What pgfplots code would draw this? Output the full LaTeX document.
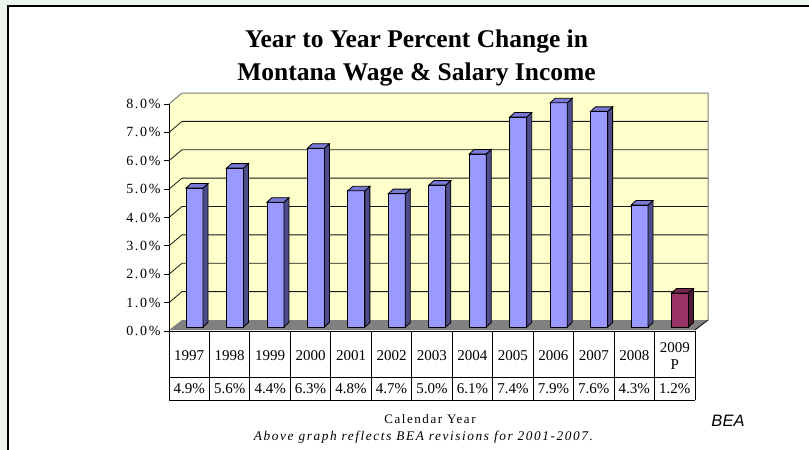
\documentclass[border=0pt]{standalone}
\usepackage{pgfplots}
\pgfplotsset{compat=1.18}
\usepackage{pgfplotstable}
\usepackage{fontspec}
\setmainfont{Liberation Serif}
\newfontfamily\spaced{Liberation Serif}[LetterSpace=12]
\newfontfamily\beafont{Liberation Sans}

\definecolor{bgout}{RGB}{237,246,236}
\definecolor{wall}{RGB}{255,255,204}
\definecolor{floorc}{RGB}{128,128,128}
\definecolor{frontA}{RGB}{153,153,255}
\definecolor{sideA}{RGB}{77,77,140}
\definecolor{topA}{RGB}{122,122,214}
\definecolor{frontB}{RGB}{153,51,102}
\definecolor{sideB}{RGB}{77,25,51}
\definecolor{topB}{RGB}{115,38,77}

\pgfplotstableread{
x v
0.5 4.9
1.5 5.6
2.5 4.4
3.5 6.3
4.5 4.8
5.5 4.7
6.5 5.0
7.5 6.1
8.5 7.4
9.5 7.9
10.5 7.6
11.5 4.3
12.5 1.2
}\growth

% side and top faces of a 3-D bar, drawn at the data point (front plane)
\newcommand\barfaces[2]{%
  \pgfmathsetmacro{\hfront}{4-\barv*28.375}%
  \pgfmathsetmacro{\hback}{8.5-\barv*28.375}%
  \pgfpathmoveto{\pgfpoint{13.8pt}{4pt}}%
  \pgfpathlineto{\pgfpoint{18.8pt}{8.5pt}}%
  \pgfpathlineto{\pgfpoint{18.8pt}{\hback pt}}%
  \pgfpathlineto{\pgfpoint{13.8pt}{\hfront pt}}%
  \pgfpathclose
  \pgfsetfillcolor{#1}%
  \pgfusepath{fill,stroke}%
  \pgfpathmoveto{\pgfpoint{-3.2pt}{4pt}}%
  \pgfpathlineto{\pgfpoint{13.8pt}{4pt}}%
  \pgfpathlineto{\pgfpoint{18.8pt}{8.5pt}}%
  \pgfpathlineto{\pgfpoint{1.8pt}{8.5pt}}%
  \pgfpathclose
  \pgfsetfillcolor{#2}%
  \pgfusepath{fill,stroke}%
}
\pgfdeclareplotmark{bar3dA}{\barfaces{sideA}{topA}}
\pgfdeclareplotmark{bar3dB}{\barfaces{sideB}{topB}}

\begin{document}
\begin{tikzpicture}
\begin{scope}[x=1pt,y=-1pt]
  \fill[bgout] (0,0) rectangle (809,450);
  \path[use as bounding box] (0,0) rectangle (809,450);
  \fill[white] (8,6) rectangle (809,450);
  \draw[black, line width=1.8pt] (8,450) -- (8,6) -- (809,6);
  % walls and floor
  \fill[wall] (169,104) -- (182,93) -- (182,320) -- (169,331) -- cycle;
  \fill[wall] (182,93) rectangle (708,320);
  \fill[floorc] (169,330) -- (695,330) -- (708,320) -- (182,320) -- cycle;
  \foreach \k in {1,...,7} {
    \draw[black!90, line width=0.8pt] (169,{331-\k*28.375}) -- (182,{320-\k*28.375}) -- (708,{320-\k*28.375});
  }
  \draw[gray, line width=1pt] (169,104) -- (182,93) -- (708,93) -- (708,320);
  \draw[black, line width=0.8pt] (695,330) -- (708,320);
  % title
  \node[anchor=base, font=\fontsize{25.5}{30}\selectfont\bfseries] at (416.5,47) {Year to Year Percent Change in};
  \node[anchor=base, font=\fontsize{25.5}{30}\selectfont\bfseries] at (416.5,80) {Montana Wage \& Salary Income};
\end{scope}

\begin{axis}[
  at={(169pt,-331pt)}, anchor=south west,
  x=40.46pt, y=28.375pt,
  xmin=0, xmax=13, ymin=0, ymax=8,
  clip=false,
  axis lines*=left,
  axis line style={-, black, line width=0.8pt},
  ytick={0,1,...,8},
  tick align=outside, major tick length=5pt,
  ytick style={black, line width=0.8pt},
  yticklabel={\pgfmathprintnumber[fixed,fixed zerofill,precision=1]{\tick}\%},
  yticklabel style={font=\spaced\fontsize{14}{14}\selectfont},
  xtick={0.5,1.5,...,12.5},
  xticklabels={1997,1998,1999,2000,2001,2002,2003,2004,2005,2006,2007,2008,{2009\\P}},
  xtick style={draw=none},
  xticklabel style={font=\fontsize{15}{17}\selectfont, align=center, anchor=center, yshift=-20pt},
  /pgf/number format/assume math mode=true,
]
\addplot[ybar, bar width=17pt, bar shift=5.3pt, yshift=4pt, fill=frontA, draw=black, line width=0.8pt,
  skip coords between index={12}{13}] table[x=x,y=v]{\growth};
\addplot[only marks, mark=bar3dA, mark options={draw=black, line width=0.8pt},
  visualization depends on={\thisrow{v}\as\barv},
  skip coords between index={12}{13}] table[x=x,y=v]{\growth};
\addplot[ybar, bar width=17pt, bar shift=5.3pt, yshift=4pt, fill=frontB, draw=black, line width=0.8pt,
  skip coords between index={0}{12}] table[x=x,y=v]{\growth};
\addplot[only marks, mark=bar3dB, mark options={draw=black, line width=0.8pt},
  visualization depends on={\thisrow{v}\as\barv},
  skip coords between index={0}{12}] table[x=x,y=v]{\growth};
% value row of the data table
\addplot[draw=none, mark=none, point meta=explicit,
  nodes near coords={\pgfmathprintnumber[fixed,fixed zerofill,precision=1]{\pgfplotspointmeta}\%},
  nodes near coords style={anchor=center, yshift=-58pt, font=\fontsize{15}{15}\selectfont}]
  table[x=x, y expr=0, meta=v]{\growth};
\end{axis}

\begin{scope}[x=1pt,y=-1pt]
  % data table grid
  \draw[black, line width=0.9pt] (169,377) -- (695,377);
  \draw[black, line width=0.9pt] (169,400) -- (695,400);
  \foreach \k in {0,...,13} {
    \draw[black, line width=0.9pt] ({169+40.46*\k},331) -- ({169+40.46*\k},400);
  }
  \node[anchor=base, font=\spaced\fontsize{13}{13}\selectfont] at (430,423) {Calendar Year};
  \node[anchor=base, font=\spaced\itshape\fontsize{13.3}{13.3}\selectfont] at (423.5,440) {Above graph reflects BEA revisions for 2001-2007.};
  \node[anchor=base, font=\beafont\itshape\fontsize{16.5}{16.5}\selectfont] at (728,426) {BEA};
\end{scope}
\end{tikzpicture}
\end{document}
